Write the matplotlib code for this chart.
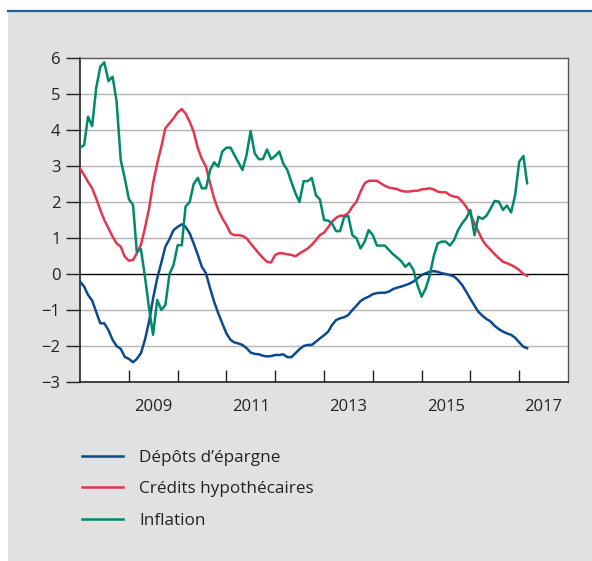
import matplotlib
matplotlib.use("Agg")
import matplotlib.pyplot as plt
from matplotlib.patches import Rectangle
from matplotlib.lines import Line2D
import pandas as pd

plt.rcParams['font.family'] = ['Open Sans', 'DejaVu Sans']

# Monthly data, Jan 2008 .. Mar 2017
depots = [-0.21, -0.35, -0.58, -0.74, -1.05, -1.37, -1.37, -1.56, -1.83, -2.0,
          -2.08, -2.3, -2.36, -2.45, -2.36, -2.2, -1.83, -1.32, -0.68, -0.12,
          0.32, 0.76, 0.97, 1.22, 1.31, 1.38, 1.31, 1.13, 0.85, 0.53,
          0.2, 0.02, -0.4, -0.77, -1.09, -1.37, -1.65, -1.83, -1.9, -1.93,
          -1.97, -2.06, -2.18, -2.22, -2.23, -2.27, -2.29, -2.28, -2.25, -2.25,
          -2.23, -2.31, -2.31, -2.2, -2.09, -2.0, -1.97, -1.97, -1.88, -1.79,
          -1.7, -1.6, -1.42, -1.28, -1.23, -1.2, -1.14, -1.0, -0.88, -0.75,
          -0.68, -0.63, -0.56, -0.53, -0.52, -0.52, -0.49, -0.42, -0.38, -0.35,
          -0.31, -0.27, -0.21, -0.12, -0.03, 0.02, 0.06, 0.08, 0.06, 0.02,
          0.0, -0.03, -0.07, -0.17, -0.31, -0.49, -0.69, -0.88, -1.05, -1.16,
          -1.25, -1.32, -1.44, -1.53, -1.6, -1.65, -1.69, -1.77, -1.9, -2.02,
          -2.06]

credits = [2.94, 2.75, 2.56, 2.38, 2.1, 1.78, 1.5, 1.27, 1.04, 0.85,
           0.76, 0.48, 0.37, 0.39, 0.57, 0.81, 1.27, 1.82, 2.52, 3.07,
           3.54, 4.05, 4.19, 4.32, 4.49, 4.58, 4.46, 4.23, 3.95, 3.49,
           3.2, 2.98, 2.52, 2.1, 1.78, 1.55, 1.36, 1.13, 1.08, 1.08,
           1.06, 0.99, 0.85, 0.71, 0.57, 0.45, 0.34, 0.32, 0.53, 0.58,
           0.57, 0.55, 0.53, 0.49, 0.57, 0.64, 0.71, 0.81, 0.94, 1.08,
           1.15, 1.3, 1.45, 1.56, 1.62, 1.62, 1.69, 1.87, 2.01, 2.29,
           2.52, 2.59, 2.59, 2.59, 2.52, 2.45, 2.4, 2.38, 2.36, 2.31,
           2.29, 2.29, 2.31, 2.31, 2.35, 2.36, 2.38, 2.35, 2.29, 2.27,
           2.27, 2.19, 2.15, 2.13, 2.01, 1.87, 1.66, 1.41, 1.18, 0.94,
           0.79, 0.67, 0.55, 0.44, 0.34, 0.3, 0.25, 0.19, 0.11, 0.0,
           -0.05]

inflation = [3.51, 3.58, 4.37, 4.11, 5.16, 5.76, 5.88, 5.36, 5.48, 4.79,
             3.17, 2.66, 2.08, 1.92, 0.62, 0.69, -0.07, -0.95, -1.69, -0.72,
             -1.0, -0.86, 0.0, 0.25, 0.8, 0.8, 1.87, 2.0, 2.5, 2.67,
             2.38, 2.38, 2.89, 3.1, 2.98, 3.4, 3.51, 3.51, 3.31, 3.1,
             2.89, 3.31, 3.97, 3.35, 3.19, 3.19, 3.46, 3.19, 3.28, 3.4,
             3.07, 2.89, 2.56, 2.24, 2.0, 2.58, 2.58, 2.67, 2.19, 2.07,
             1.5, 1.48, 1.41, 1.19, 1.19, 1.59, 1.61, 1.08, 0.99, 0.71,
             0.9, 1.22, 1.08, 0.79, 0.79, 0.79, 0.67, 0.55, 0.46, 0.36,
             0.2, 0.3, 0.11, -0.31, -0.63, -0.4, -0.07, 0.48, 0.85, 0.9,
             0.9, 0.79, 0.94, 1.22, 1.41, 1.55, 1.78, 1.08, 1.59, 1.53,
             1.62, 1.82, 2.03, 2.01, 1.78, 1.9, 1.71, 2.19, 3.12, 3.28,
             2.52]

labels = ["Dépôts d’épargne", "Crédits hypothécaires", "Inflation"]
colors = ["#0b4a8f", "#e0384e", "#00896b"]
year_labels = ["2009", "2011", "2013", "2015", "2017"]
y_ticks = [-3, -2, -1, 0, 1, 2, 3, 4, 5, 6]

dates = pd.date_range("2008-01-01", periods=len(depots), freq="MS")

W, H = 592, 561
fig = plt.figure(figsize=(W / 100, H / 100), dpi=100)
fig.patch.set_facecolor("white")
# grey panel and top rule
fig.patches.append(Rectangle((8 / W, 0), 1 - 8 / W, (H - 12) / H,
                             transform=fig.transFigure, facecolor="#e1e1e1",
                             edgecolor="none", zorder=-10))
fig.lines.append(Line2D([8 / W, 1], [(H - 11) / H, (H - 11) / H],
                        transform=fig.transFigure, color="#1f5c99", lw=1.6, zorder=-5))

ax = fig.add_axes([80 / W, (H - 382) / H, (568 - 80) / W, (382 - 58) / H])
ax.set_zorder(1)
ax.set_facecolor("white")

for vals, lab, col in zip([depots, credits, inflation], labels, colors):
    ax.plot(dates, vals, color=col, lw=1.8, label=lab, solid_joinstyle="round", zorder=3)

ax.set_ylim(-3, 6)
ax.set_xlim(pd.Timestamp("2008-01-01"), pd.Timestamp("2018-01-01"))
ax.set_yticks(y_ticks)
ax.set_yticklabels([str(v).replace("-", "\u2212") for v in y_ticks])
for v in y_ticks:
    if v == 0:
        ax.axhline(0, color="black", lw=1.0, zorder=2)
    elif v not in (-3, 6):
        ax.axhline(v, color="#b4b4b4", lw=1.0, zorder=1)

major = [pd.Timestamp(f"{y}-01-01") for y in range(2009, 2018)]
ax.set_xticks(major)
ax.set_xticklabels([])
minor = [pd.Timestamp(f"{y}-07-01") for y in year_labels]
ax.set_xticks(minor, minor=True)
ax.set_xticklabels(year_labels, minor=True)
ax.tick_params(axis="x", which="major", direction="in", length=9, width=1.0, color="#222222")
ax.tick_params(axis="x", which="minor", length=0, pad=12, labelsize=12, labelcolor="#222222")
ax.tick_params(axis="y", direction="out", length=10, width=1.0, color="#222222",
               labelsize=12, labelcolor="#222222", pad=4)

for s in ["left", "bottom"]:
    ax.spines[s].set_color("#222222")
    ax.spines[s].set_linewidth(1.2)
for s in ["top", "right"]:
    ax.spines[s].set_color("#555555")
    ax.spines[s].set_linewidth(1.0)

leg = fig.legend(loc="upper left", bbox_to_anchor=(75 / W, 1 - 443 / H),
                 frameon=False, fontsize=12.3, handlelength=2.4,
                 handletextpad=0.94, labelspacing=0.9, borderaxespad=0)
for t in leg.get_texts():
    t.set_color("#222222")

fig.savefig("out.png", dpi=100)
